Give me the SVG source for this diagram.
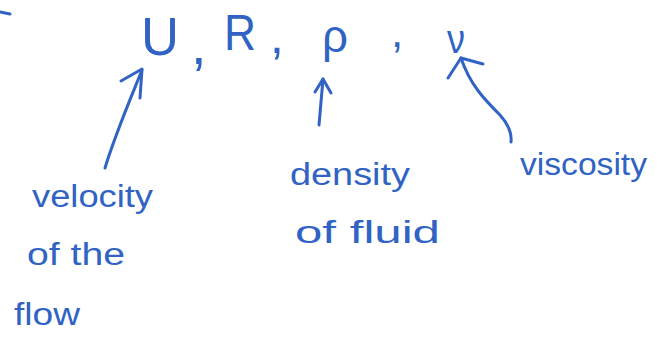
<svg xmlns="http://www.w3.org/2000/svg" width="659" height="351" viewBox="0 0 659 351">
<style>
  .ink { fill: #3063c3; font-family: "Liberation Sans", "DejaVu Sans", sans-serif; }
  .stroke { fill: none; stroke: #3063c3; stroke-width: 3; stroke-linecap: round; stroke-linejoin: round; }
</style>
<rect width="659" height="351" fill="#ffffff"/>
<path class="stroke" d="M0,12 L10,14"/>
<g id="symbols">
  <text id="sym-U" class="ink" x="141" y="55" font-size="54" textLength="38" lengthAdjust="spacingAndGlyphs">U</text>
  <text id="comma1" class="ink" x="191" y="64" font-size="56">,</text>
  <text id="sym-R" class="ink" x="224" y="50" font-size="50" textLength="32" lengthAdjust="spacingAndGlyphs">R</text>
  <text id="comma2" class="ink" x="270" y="53" font-size="50">,</text>
  <text id="sym-rho" class="ink" x="322" y="52" font-size="46" textLength="26" lengthAdjust="spacingAndGlyphs">ρ</text>
  <text id="comma3" class="ink" x="391" y="47" font-size="44">,</text>
  <text id="sym-nu" class="ink" x="447" y="53" font-size="40" textLength="18" lengthAdjust="spacingAndGlyphs">ν</text>
</g>
<g id="label-velocity">
  <text class="ink" x="32" y="207" font-size="31" textLength="121" lengthAdjust="spacingAndGlyphs">velocity</text>
  <text class="ink" x="27" y="265" font-size="31" textLength="98" lengthAdjust="spacingAndGlyphs">of the</text>
  <text class="ink" x="14" y="325" font-size="31" textLength="66" lengthAdjust="spacingAndGlyphs">flow</text>
</g>
<g id="label-density">
  <text class="ink" x="290" y="185" font-size="31" textLength="120" lengthAdjust="spacingAndGlyphs">density</text>
  <text class="ink" x="295" y="243" font-size="31" textLength="145" lengthAdjust="spacingAndGlyphs">of fluid</text>
</g>
<g id="label-viscosity">
  <text class="ink" x="520" y="175" font-size="31" textLength="127" lengthAdjust="spacingAndGlyphs">viscosity</text>
</g>
<g id="connectors">
  <path class="stroke" d="M105,168 C115,135 130,100 142,70"/>
  <path class="stroke" d="M121,81 L142,69 L140,98"/>
  <path class="stroke" d="M319,125 L323,79"/>
  <path class="stroke" d="M315,92 L323,79 L331,93"/>
  <path class="stroke" d="M461,58 C470,85 485,100 500,115 C508,124 512,133 511,142"/>
  <path class="stroke" d="M448,78 L461,58 L483,64"/>
</g>
</svg>
